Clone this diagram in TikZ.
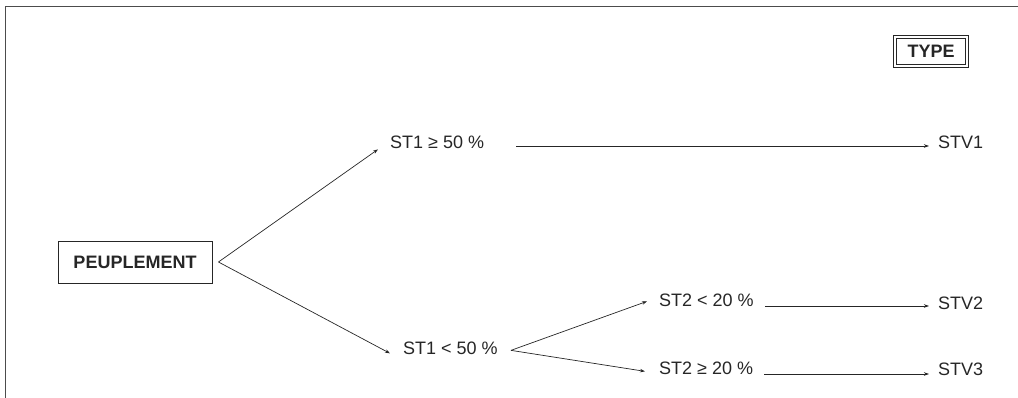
\documentclass[tikz,border=0pt]{standalone}
\usepackage{fontspec}
\setmainfont{Liberation Sans}
\usetikzlibrary{arrows.meta,shadows}

\begin{document}
\begin{tikzpicture}[x=1pt,y=-1pt,
  lbl/.style={inner sep=0pt,text=black!85,font=\fontsize{18}{21}\selectfont},
  head/.style={draw=black!85,line width=0.9pt,inner sep=0pt,text=black!85,fill=white,
    drop shadow={shadow xshift=1pt,shadow yshift=-1pt,fill=black!60,opacity=1},
    font=\fontsize{18}{21}\selectfont\bfseries},
  arr/.style={-{Stealth[length=5pt,width=3.5pt]},line width=0.7pt,black!85}]
\useasboundingbox (0,0) rectangle (1018,398);

% Frame
\draw[black!70,line width=1pt] (5,398) -- (5,7) -- (1018,7);

% Headings
\node[head,double,double distance=2pt,minimum width=72pt,minimum height=29pt]
  (type) at (931,51.5) {TYPE};
\node[head,minimum width=154pt,minimum height=42pt] (peup) at (135,262) {PEUPLEMENT};

% Conditions
\node[lbl,anchor=base west] (st1a) at (390,149) {ST1 ≥ 50 \%};
\node[lbl,anchor=base west] (st1b) at (403,354) {ST1 < 50 \%};
\node[lbl,anchor=base west] (st2a) at (659,307) {ST2 < 20 \%};
\node[lbl,anchor=base west] (st2b) at (659,374) {ST2 ≥ 20 \%};

% Types
\node[lbl,anchor=base west] (stv1) at (938,149) {STV1};
\node[lbl,anchor=base west] (stv2) at (938,309) {STV2};
\node[lbl,anchor=base west] (stv3) at (938,375) {STV3};

% Branches
\draw[arr] ([xshift=6pt]peup.east) -- ([xshift=-12pt,yshift=-3pt]st1a.mid west);
\draw[arr] ([xshift=6pt]peup.east) -- ([xshift=-13pt,yshift=-2pt]st1b.mid west);
\draw[arr] ([xshift=13pt,yshift=1pt]st1b.mid east) -- ([xshift=-12pt,yshift=3pt]st2a.mid west);
\draw[arr] ([xshift=13pt,yshift=1pt]st1b.mid east) -- ([xshift=-14pt]st2b.mid west);

% To types
\draw[arr] ([xshift=32pt,yshift=3pt]st1a.base east) -- ([xshift=-9pt,yshift=3pt]st1a.base east -| stv1.base west);
\draw[arr] ([xshift=11pt,yshift=1pt]st2a.base east) -- ([xshift=-9pt,yshift=1pt]st2a.base east -| stv2.base west);
\draw[arr] ([xshift=11pt]st2b.base east) -- ([xshift=-9pt]st2b.base east -| stv3.base west);
\end{tikzpicture}
\end{document}
